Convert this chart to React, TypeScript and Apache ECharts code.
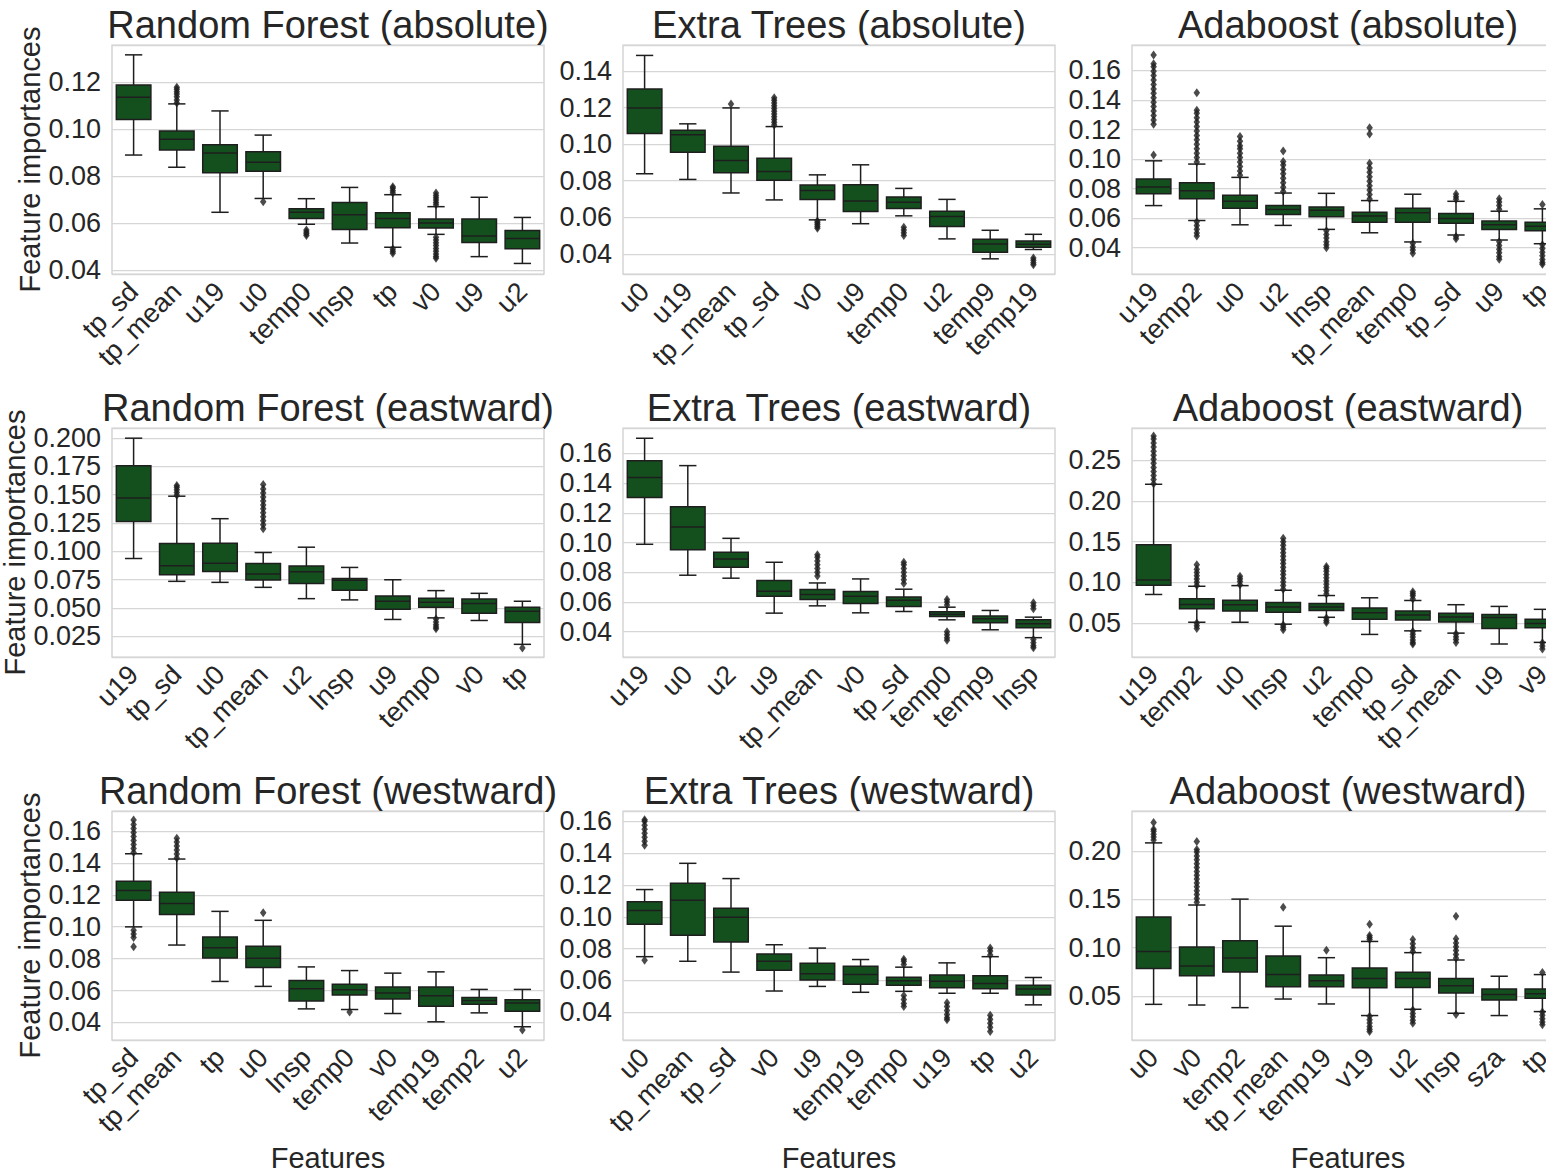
import React, { useEffect, useRef } from 'react';
import * as echarts from 'echarts';

// ---------- DATA ----------
// stats per category: [lower whisker, Q1, median, Q3, upper whisker]
const rfAbsCats = ['tp_sd', 'tp_mean', 'u19', 'u0', 'temp0', 'lnsp', 'tp', 'v0', 'u9', 'u2'];
const rfAbsStats = [
  [0.0890, 0.1042, 0.1136, 0.1189, 0.1317],
  [0.0838, 0.0912, 0.0957, 0.0993, 0.1108],
  [0.0646, 0.0815, 0.0899, 0.0934, 0.1078],
  [0.0705, 0.0821, 0.0859, 0.0904, 0.0975],
  [0.0595, 0.0620, 0.0646, 0.0661, 0.0704],
  [0.0515, 0.0573, 0.0636, 0.0688, 0.0752],
  [0.0497, 0.0580, 0.0620, 0.0644, 0.0721],
  [0.0552, 0.0579, 0.0600, 0.0617, 0.0670],
  [0.0457, 0.0517, 0.0545, 0.0617, 0.0710],
  [0.0428, 0.0491, 0.0534, 0.0568, 0.0624],
];
const rfAbsOut = [
  [],
  [0.1112, 0.1125, 0.1138, 0.1150, 0.1160, 0.1170, 0.1179],
  [],
  [0.0691],
  [0.0570, 0.0562, 0.0555, 0.0547],
  [],
  [0.0728, 0.0738, 0.0748, 0.0755, 0.0490, 0.0480, 0.0471],
  [0.0678, 0.0688, 0.0698, 0.0708, 0.0718, 0.0728, 0.0540, 0.0528, 0.0516, 0.0504, 0.0492, 0.0480, 0.0468, 0.0458, 0.0450],
  [],
  [],
];

const etAbsCats = ['u0', 'u19', 'tp_mean', 'tp_sd', 'v0', 'u9', 'temp0', 'u2', 'temp9', 'temp19'];
const etAbsStats = [
  [0.0838, 0.1058, 0.1198, 0.1302, 0.1485],
  [0.0807, 0.0955, 0.1051, 0.1076, 0.1111],
  [0.0733, 0.0843, 0.0910, 0.0988, 0.1198],
  [0.0695, 0.0803, 0.0850, 0.0923, 0.1096],
  [0.0586, 0.0697, 0.0747, 0.0776, 0.0832],
  [0.0565, 0.0632, 0.0689, 0.0778, 0.0887],
  [0.0608, 0.0648, 0.0682, 0.0711, 0.0758],
  [0.0482, 0.0550, 0.0604, 0.0633, 0.0698],
  [0.0373, 0.0409, 0.0454, 0.0480, 0.0529],
  [0.0424, 0.0436, 0.0453, 0.0471, 0.0507],
];
const etAbsOut = [
  [],
  [],
  [0.1219],
  [0.1105, 0.1120, 0.1135, 0.1150, 0.1165, 0.1180, 0.1195, 0.1210, 0.1225, 0.1240, 0.1254],
  [0.0580, 0.0570, 0.0560, 0.0550, 0.0540],
  [],
  [0.0545, 0.0530, 0.0515, 0.0500],
  [],
  [],
  [0.0378, 0.0365, 0.0352, 0.0340],
];

const adaAbsCats = ['u19', 'temp2', 'u0', 'u2', 'lnsp', 'tp_mean', 'temp0', 'tp_sd', 'u9', 'tp'];
const adaAbsStats = [
  [0.0685, 0.0766, 0.0811, 0.0865, 0.0988],
  [0.0584, 0.0732, 0.0786, 0.0840, 0.0966],
  [0.0555, 0.0667, 0.0714, 0.0755, 0.0876],
  [0.0551, 0.0625, 0.0658, 0.0685, 0.0770],
  [0.0524, 0.0609, 0.0654, 0.0676, 0.0768],
  [0.0501, 0.0573, 0.0614, 0.0640, 0.0719],
  [0.0439, 0.0573, 0.0636, 0.0667, 0.0762],
  [0.0486, 0.0566, 0.0598, 0.0631, 0.0714],
  [0.0452, 0.0524, 0.0555, 0.0580, 0.0647],
  [0.0427, 0.0515, 0.0546, 0.0573, 0.0663],
];
const adaAbsOut = [
  [0.1028, 0.1235, 0.1265, 0.1295, 0.1325, 0.1355, 0.1385, 0.1415, 0.1445, 0.1475, 0.1505, 0.1535, 0.1565, 0.1595, 0.1625, 0.1645, 0.1705],
  [0.0980, 0.1010, 0.1040, 0.1070, 0.1100, 0.1130, 0.1160, 0.1190, 0.1220, 0.1250, 0.1280, 0.1310, 0.1331, 0.1448, 0.0575, 0.0550, 0.0525, 0.0500, 0.0479],
  [0.0890, 0.0920, 0.0950, 0.0980, 0.1010, 0.1040, 0.1070, 0.1090, 0.1120, 0.1152],
  [0.0780, 0.0810, 0.0840, 0.0870, 0.0900, 0.0930, 0.0960, 0.0983, 0.1055],
  [0.0515, 0.0490, 0.0465, 0.0440, 0.0420, 0.0400],
  [0.0730, 0.0760, 0.0790, 0.0820, 0.0850, 0.0880, 0.0910, 0.0940, 0.0972, 0.1170, 0.1212],
  [0.0430, 0.0405, 0.0385, 0.0362],
  [0.0728, 0.0745, 0.0764, 0.0475, 0.0460],
  [0.0660, 0.0685, 0.0710, 0.0732, 0.0440, 0.0415, 0.0390, 0.0365, 0.0340, 0.0322],
  [0.0692, 0.0420, 0.0395, 0.0370, 0.0345, 0.0320, 0.0300, 0.0288],
];

const rfEastCats = ['u19', 'tp_sd', 'u0', 'tp_mean', 'u2', 'lnsp', 'u9', 'temp0', 'v0', 'tp'];
const rfEastStats = [
  [0.0936, 0.1264, 0.1472, 0.1757, 0.2000],
  [0.0734, 0.0792, 0.0872, 0.1068, 0.1487],
  [0.0725, 0.0822, 0.0895, 0.1071, 0.1288],
  [0.0681, 0.0746, 0.0798, 0.0892, 0.0989],
  [0.0581, 0.0716, 0.0819, 0.0869, 0.1036],
  [0.0570, 0.0655, 0.0743, 0.0760, 0.0857],
  [0.0397, 0.0488, 0.0558, 0.0605, 0.0748],
  [0.0411, 0.0505, 0.0549, 0.0584, 0.0652],
  [0.0388, 0.0452, 0.0537, 0.0578, 0.0628],
  [0.0177, 0.0370, 0.0470, 0.0505, 0.0558],
];
const rfEastOut = [
  [],
  [0.1495, 0.1520, 0.1545, 0.1565, 0.1581],
  [],
  [0.1200, 0.1235, 0.1270, 0.1305, 0.1340, 0.1375, 0.1410, 0.1445, 0.1480, 0.1515, 0.1550, 0.1590],
  [],
  [],
  [],
  [0.0400, 0.0375, 0.0350, 0.0330, 0.0315],
  [],
  [0.0145],
];

const etEastCats = ['u19', 'u0', 'u2', 'u9', 'tp_mean', 'v0', 'tp_sd', 'temp0', 'temp9', 'lnsp'];
const etEastStats = [
  [0.0988, 0.1303, 0.1437, 0.1549, 0.1701],
  [0.0780, 0.0952, 0.1104, 0.1240, 0.1517],
  [0.0760, 0.0833, 0.0889, 0.0934, 0.1028],
  [0.0525, 0.0639, 0.0672, 0.0744, 0.0867],
  [0.0574, 0.0617, 0.0650, 0.0684, 0.0728],
  [0.0527, 0.0590, 0.0639, 0.0670, 0.0755],
  [0.0536, 0.0570, 0.0612, 0.0634, 0.0686],
  [0.0480, 0.0503, 0.0518, 0.0534, 0.0565],
  [0.0413, 0.0460, 0.0487, 0.0505, 0.0543],
  [0.0360, 0.0427, 0.0453, 0.0480, 0.0498],
];
const etEastOut = [
  [],
  [],
  [],
  [],
  [0.0775, 0.0800, 0.0825, 0.0850, 0.0875, 0.0900, 0.0918],
  [],
  [0.0725, 0.0750, 0.0775, 0.0800, 0.0825, 0.0850, 0.0867],
  [0.0580, 0.0600, 0.0617, 0.0400, 0.0380, 0.0360, 0.0342],
  [],
  [0.0555, 0.0575, 0.0595, 0.0348, 0.0325, 0.0305, 0.0293],
];

const adaEastCats = ['u19', 'temp2', 'u0', 'lnsp', 'u2', 'temp0', 'tp_sd', 'tp_mean', 'u9', 'v9'];
const adaEastStats = [
  [0.0850, 0.0963, 0.1028, 0.1463, 0.2207],
  [0.0508, 0.0675, 0.0728, 0.0797, 0.0951],
  [0.0508, 0.0646, 0.0724, 0.0780, 0.0959],
  [0.0484, 0.0630, 0.0695, 0.0752, 0.0902],
  [0.0569, 0.0654, 0.0695, 0.0740, 0.0837],
  [0.0358, 0.0545, 0.0626, 0.0683, 0.0809],
  [0.0402, 0.0537, 0.0598, 0.0646, 0.0776],
  [0.0374, 0.0512, 0.0573, 0.0618, 0.0724],
  [0.0240, 0.0431, 0.0565, 0.0602, 0.0703],
  [0.0260, 0.0439, 0.0492, 0.0545, 0.0667],
];
const adaEastOut = [
  [0.2215, 0.2265, 0.2315, 0.2365, 0.2415, 0.2465, 0.2515, 0.2565, 0.2615, 0.2665, 0.2715, 0.2765, 0.2801],
  [0.0960, 0.1000, 0.1040, 0.1080, 0.1120, 0.1160, 0.1215, 0.0500, 0.0465, 0.0431],
  [0.0970, 0.1010, 0.1045, 0.1073],
  [0.0915, 0.0960, 0.1005, 0.1050, 0.1095, 0.1140, 0.1185, 0.1230, 0.1275, 0.1320, 0.1365, 0.1410, 0.1455, 0.1500, 0.1541, 0.0475, 0.0445, 0.0415],
  [0.0855, 0.0895, 0.0935, 0.0975, 0.1015, 0.1055, 0.1095, 0.1135, 0.1170, 0.1195, 0.0560, 0.0530, 0.0504],
  [],
  [0.0795, 0.0835, 0.0860, 0.0882, 0.0395, 0.0360, 0.0325, 0.0290, 0.0260, 0.0240],
  [0.0365, 0.0330, 0.0295, 0.0260],
  [],
  [0.0255, 0.0215, 0.0179],
];

const rfWestCats = ['tp_sd', 'tp_mean', 'tp', 'u0', 'lnsp', 'temp0', 'v0', 'temp19', 'temp2', 'u2'];
const rfWestStats = [
  [0.0999, 0.1165, 0.1227, 0.1285, 0.1457],
  [0.0885, 0.1076, 0.1146, 0.1216, 0.1424],
  [0.0657, 0.0804, 0.0868, 0.0935, 0.1096],
  [0.0626, 0.0744, 0.0802, 0.0877, 0.1040],
  [0.0485, 0.0534, 0.0611, 0.0663, 0.0748],
  [0.0481, 0.0572, 0.0605, 0.0640, 0.0725],
  [0.0456, 0.0547, 0.0584, 0.0622, 0.0709],
  [0.0404, 0.0501, 0.0568, 0.0622, 0.0717],
  [0.0460, 0.0514, 0.0537, 0.0557, 0.0607],
  [0.0373, 0.0470, 0.0522, 0.0543, 0.0607],
];
const rfWestOut = [
  [0.1465, 0.1490, 0.1515, 0.1540, 0.1565, 0.1590, 0.1615, 0.1640, 0.1668, 0.0978, 0.0955, 0.0933, 0.0874],
  [0.1430, 0.1455, 0.1480, 0.1505, 0.1530, 0.1554],
  [],
  [0.1088],
  [],
  [0.0466],
  [],
  [],
  [],
  [0.0352],
];

const etWestCats = ['u0', 'tp_mean', 'tp_sd', 'v0', 'u9', 'temp19', 'temp0', 'u19', 'tp', 'u2'];
const etWestStats = [
  [0.0749, 0.0953, 0.1040, 0.1094, 0.1171],
  [0.0720, 0.0884, 0.1103, 0.1211, 0.1336],
  [0.0652, 0.0841, 0.0997, 0.1053, 0.1240],
  [0.0533, 0.0664, 0.0720, 0.0766, 0.0824],
  [0.0562, 0.0602, 0.0641, 0.0708, 0.0803],
  [0.0525, 0.0575, 0.0637, 0.0689, 0.0731],
  [0.0531, 0.0570, 0.0597, 0.0620, 0.0683],
  [0.0519, 0.0554, 0.0595, 0.0633, 0.0710],
  [0.0519, 0.0548, 0.0581, 0.0629, 0.0749],
  [0.0446, 0.0508, 0.0546, 0.0570, 0.0618],
];
const etWestOut = [
  [0.1450, 0.1475, 0.1500, 0.1525, 0.1550, 0.1575, 0.1600, 0.1610, 0.0726],
  [],
  [],
  [],
  [],
  [],
  [0.0700, 0.0720, 0.0733, 0.0505, 0.0480, 0.0455, 0.0435],
  [0.0460, 0.0435, 0.0410, 0.0385, 0.0365, 0.0352],
  [0.0760, 0.0785, 0.0803, 0.0380, 0.0355, 0.0330, 0.0305, 0.0279],
  [],
];

const adaWestCats = ['u0', 'v0', 'temp2', 'tp_mean', 'temp19', 'v19', 'u2', 'lnsp', 'sza', 'tp'];
const adaWestStats = [
  [0.0414, 0.0784, 0.0962, 0.1318, 0.2085],
  [0.0407, 0.0709, 0.0812, 0.1007, 0.1442],
  [0.0380, 0.0750, 0.0894, 0.1072, 0.1503],
  [0.0469, 0.0596, 0.0722, 0.0914, 0.1223],
  [0.0418, 0.0596, 0.0657, 0.0719, 0.0897],
  [0.0298, 0.0586, 0.0681, 0.0791, 0.1065],
  [0.0363, 0.0589, 0.0681, 0.0746, 0.0949],
  [0.0322, 0.0531, 0.0606, 0.0681, 0.0873],
  [0.0298, 0.0459, 0.0517, 0.0572, 0.0705],
  [0.0339, 0.0476, 0.0524, 0.0572, 0.0722],
];
const adaWestOut = [
  [0.2115, 0.2145, 0.2175, 0.2205, 0.2225, 0.2296],
  [0.1470, 0.1510, 0.1550, 0.1590, 0.1630, 0.1670, 0.1710, 0.1750, 0.1790, 0.1830, 0.1870, 0.1910, 0.1950, 0.1990, 0.2017, 0.2100],
  [],
  [0.1418],
  [0.0973],
  [0.1086, 0.1105, 0.1127, 0.1243, 0.0290, 0.0255, 0.0220, 0.0185, 0.0155, 0.0133],
  [0.0960, 0.1000, 0.1040, 0.1086, 0.0355, 0.0320, 0.0285, 0.0250, 0.0219],
  [0.0890, 0.0930, 0.0970, 0.1010, 0.1050, 0.1092, 0.1325, 0.0310],
  [],
  [0.0743, 0.0335, 0.0300, 0.0265, 0.0230, 0.0202],
];

const panelTitles = [
  'Random Forest (absolute)', 'Extra Trees (absolute)', 'Adaboost (absolute)',
  'Random Forest (eastward)', 'Extra Trees (eastward)', 'Adaboost (eastward)',
  'Random Forest (westward)', 'Extra Trees (westward)', 'Adaboost (westward)',
];
const panelCats = [rfAbsCats, etAbsCats, adaAbsCats, rfEastCats, etEastCats, adaEastCats, rfWestCats, etWestCats, adaWestCats];
const panelStats = [rfAbsStats, etAbsStats, adaAbsStats, rfEastStats, etEastStats, adaEastStats, rfWestStats, etWestStats, adaWestStats];
const panelOut = [rfAbsOut, etAbsOut, adaAbsOut, rfEastOut, etEastOut, adaEastOut, rfWestOut, etWestOut, adaWestOut];
const yMins = [0.0383, 0.0290, 0.0222, 0.0065, 0.0230, 0.0080, 0.0290, 0.0225, 0.0045];
const yMaxs = [0.1359, 0.1542, 0.1772, 0.2090, 0.1770, 0.2900, 0.1725, 0.1665, 0.2415];
const ySteps = [0.02, 0.02, 0.02, 0.025, 0.02, 0.05, 0.02, 0.02, 0.05];
const yDecimals = [2, 2, 2, 3, 2, 2, 2, 2, 2];
const yAxisName = 'Feature importances';
const xAxisName = 'Features';

// ---------- STYLE / LAYOUT ----------
const FONT = '"Liberation Sans", Arial, sans-serif';
const TEXT = '#262626';
const FILL = '#13501e';
const EDGE = '#1e1e1e';
const GRIDLINE = '#d6d6d6';
const FRAME = '#cccccc';
const colLeft = [112, 623, 1132];
const rowTop = [45, 428, 811];
const plotW = 432;
const plotH = 229;

function renderBox(params: any, api: any) {
  const idx = api.value(0);
  const lo = api.coord([idx, api.value(1)]);
  const q1 = api.coord([idx, api.value(2)]);
  const md = api.coord([idx, api.value(3)]);
  const q3 = api.coord([idx, api.value(4)]);
  const hi = api.coord([idx, api.value(5)]);
  const w = api.size([1, 0])[0] * 0.8;
  const cx = lo[0];
  const ls = { stroke: EDGE, lineWidth: 1.5 };
  return {
    type: 'group',
    children: [
      { type: 'line', shape: { x1: cx, y1: hi[1], x2: cx, y2: q3[1] }, style: ls },
      { type: 'line', shape: { x1: cx, y1: q1[1], x2: cx, y2: lo[1] }, style: ls },
      { type: 'line', shape: { x1: cx - w / 4, y1: hi[1], x2: cx + w / 4, y2: hi[1] }, style: ls },
      { type: 'line', shape: { x1: cx - w / 4, y1: lo[1], x2: cx + w / 4, y2: lo[1] }, style: ls },
      { type: 'rect', shape: { x: cx - w / 2, y: q3[1], width: w, height: q1[1] - q3[1] }, style: { fill: FILL, stroke: EDGE, lineWidth: 1.5 } },
      { type: 'line', shape: { x1: cx - w / 2, y1: md[1], x2: cx + w / 2, y2: md[1] }, style: ls },
    ],
  };
}

function buildOption() {
  const grid: any[] = [];
  const xAxis: any[] = [];
  const yAxis: any[] = [];
  const series: any[] = [];
  const graphic: any[] = [];
  for (let p = 0; p < 9; p++) {
    const r = Math.floor(p / 3);
    const c = p % 3;
    grid.push({
      left: colLeft[c], top: rowTop[r], width: plotW, height: plotH,
      show: true, borderColor: FRAME, borderWidth: 1.25, backgroundColor: '#ffffff',
      containLabel: false, outerBoundsMode: 'none',
    });
    xAxis.push({
      type: 'category', gridIndex: p, data: panelCats[p], boundaryGap: true,
      axisLine: { show: false }, axisTick: { show: false }, splitLine: { show: false },
      axisLabel: { rotate: 45, fontSize: 27, color: TEXT, fontFamily: FONT, margin: 13, interval: 0 },
      name: r === 2 ? xAxisName : '', nameLocation: 'middle', nameGap: 103,
      nameTextStyle: { fontSize: 29, color: TEXT, fontFamily: FONT },
    });
    const dec = yDecimals[p];
    yAxis.push({
      type: 'value', gridIndex: p, min: yMins[p], max: yMaxs[p],
      minInterval: ySteps[p], maxInterval: ySteps[p],
      axisLine: { show: false }, axisTick: { show: false },
      splitLine: { show: true, lineStyle: { color: GRIDLINE, width: 1.25 } },
      axisLabel: {
        fontSize: 27, color: TEXT, fontFamily: FONT, margin: 11,
        showMinLabel: false, showMaxLabel: false,
        formatter: (v: number) => v.toFixed(dec),
      },
      name: c === 0 ? yAxisName : '', nameLocation: 'middle', nameGap: 67, nameRotate: 90,
      nameTextStyle: { fontSize: 29, color: TEXT, fontFamily: FONT },
    });
    series.push({
      type: 'custom', xAxisIndex: p, yAxisIndex: p,
      renderItem: renderBox,
      encode: { x: 0, y: [1, 2, 3, 4, 5] },
      data: panelStats[p].map((s, i) => [i, ...s]),
      z: 3,
    });
    const pts: number[][] = [];
    panelOut[p].forEach((arr, i) => arr.forEach((v) => pts.push([i, v])));
    series.push({
      type: 'scatter', xAxisIndex: p, yAxisIndex: p,
      symbol: 'diamond', symbolSize: [6.5, 9],
      itemStyle: { color: EDGE },
      data: pts, z: 4,
    });
    graphic.push({
      type: 'text',
      style: {
        text: panelTitles[p], x: colLeft[c] + plotW / 2, y: rowTop[r] - 20,
        align: 'center', verticalAlign: 'middle',
        fontSize: 38, fontFamily: FONT, fill: TEXT,
      },
    });
  }
  return {
    animation: false,
    backgroundColor: '#ffffff',
    textStyle: { fontFamily: FONT },
    grid, xAxis, yAxis, series, graphic,
  };
}

export default function App() {
  const ref = useRef<HTMLDivElement>(null);
  useEffect(() => {
    if (!ref.current) return;
    const chart = echarts.init(ref.current, undefined, { renderer: 'svg' });
    chart.setOption(buildOption() as any);
    return () => chart.dispose();
  }, []);
  return (
    <div
      ref={ref}
      style={{ position: 'absolute', left: 0, top: 0, width: 1546, height: 1174, background: '#fff' }}
    />
  );
}
